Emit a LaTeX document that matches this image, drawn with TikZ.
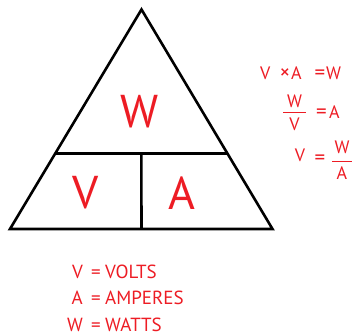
\documentclass[tikz,border=0pt]{standalone}
\usepackage{fontspec}
\setmainfont{PT Sans}
\usepackage{xcolor}
\definecolor{ohmred}{RGB}{237,28,36}
\usetikzlibrary{positioning,calc}

\begin{document}
\begin{tikzpicture}[
  x=1pt,
  y=-1pt,
  edge/.style={draw=black, line width=2.6pt, line join=miter},
  big/.style={text=ohmred, font=\fontsize{46}{46}\selectfont, inner sep=0pt},
  frm/.style={text=ohmred, font=\fontsize{18}{18}\selectfont, inner sep=0pt},
  sign/.style={text=ohmred, font=\fontsize{21}{21}\selectfont, inner sep=0pt},
  key/.style={text=ohmred, font=\fontsize{19}{19}\selectfont, inner sep=0pt},
  bar/.style={draw=ohmred, line width=1pt}
]
\useasboundingbox (0,0) rectangle (357,336);

% Triangle: apex, base corners, and the inner dividers.
\coordinate (top) at (141.5,9.5);
\coordinate (bl) at (10,229);
\coordinate (br) at (272.5,229);
\coordinate (ml) at ($(bl)!0.345!(top)$);
\coordinate (mr) at ($(br)!0.345!(top)$);
\coordinate (mm) at ($(ml)!0.5!(mr)$);
\coordinate (bm) at (141.5,229);
\draw[edge] (top) -- (bl) -- (br) -- cycle;
\draw[edge] (ml) -- (mr);
\draw[edge] (mm) -- (bm);

% Letters inside the triangle.
\node[big] (lw) at (140,112) {W};
\node[big] (lv) at (86,193) {V};
\node[big] (la) at (182,193) {A};

% V x A = W
\node[frm, anchor=base west] (r1v) at (260,80) {V};
\node[sign, anchor=base] (r1x) at (285,80) {×};
\node[frm, anchor=base west] (r1a) at (291,80) {A};
\node[sign, anchor=base] (r1e) at (320,80) {=};
\node[frm, anchor=base west] (r1w) at (326,80) {W};

% W / V = A
\node[frm, anchor=base] (r2w) at (294.5,108) {W};
\draw[bar] (283,112.5) -- (306,112.5);
\node[frm, anchor=base] (r2v) at (294.5,131) {V};
\node[sign, anchor=base] (r2e) at (321.5,119) {=};
\node[frm, anchor=base west] (r2a) at (329,119) {A};

% V = W / A
\node[frm, anchor=base] (r3v) at (300,162) {V};
\node[sign, anchor=base] (r3e) at (320,165) {=};
\node[frm, anchor=base] (r3w) at (342,154) {W};
\draw[bar] (332,161.5) -- (352,161.5);
\node[frm, anchor=base] (r3a) at (342,180) {A};

% Key to the letters.
\foreach \ky/\sym/\word in {279/V/VOLTS,305/A/AMPERES,332/W/WATTS} {
  \node[key, anchor=base east] at (83,\ky) {\sym};
  \node[key, anchor=base] at (96,\ky) {=};
  \node[key, anchor=base west] at (105,\ky) {\word};
}
\end{tikzpicture}
\end{document}
